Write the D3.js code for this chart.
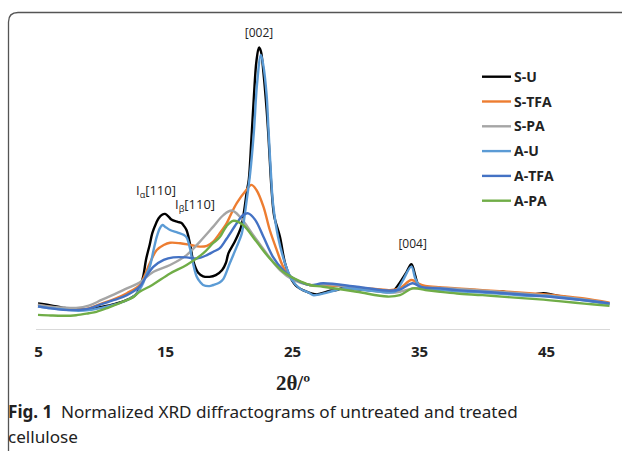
<!DOCTYPE html>
<html>
<head>
<meta charset="utf-8">
<script src="https://d3js.org/d3.v7.min.js"></script>
<style>
  body { margin:0; background:#fff; }
  svg { display:block; }
</style>
</head>
<body>
<svg></svg>
<script>

// series names, in Excel draw order
var seriesNames = ["S-U","S-TFA","S-PA","A-U","A-TFA","A-PA"];
var seriesColors = ["#000000","#ED7D31","#A5A5A5","#5B9BD5","#4472C4","#70AD47"];
var xTicks = [5,15,25,35,45];

// [2theta, normalized intensity]
var sU = [[5,9.1],[6,8.4],[7,7.5],[8,6.9],[9,7.0],[10,7.8],[11,8.8],[12,10.3],[12.7,12.2],[13,14.5],
  [13.3,19],[13.5,24.5],[13.8,30],[14,34],[14.3,37.5],[14.5,39.3],[14.8,40.6],[15,40.8],[15.3,39.8],
  [15.5,38.8],[16,38.0],[16.3,37.6],[16.5,36.5],[16.7,35],[17,29.5],[17.2,24.5],[17.6,20],[18,18.7],
  [18.5,18.5],[19,19.1],[19.5,20.9],[19.8,23.5],[20,26.9],[20.5,31],[21,36.3],[21.2,41],[21.45,49],
  [21.6,53],[21.8,67],[22,82.4],[22.2,95],[22.4,99.8],[22.55,98.5],[22.75,91],[23,78],[23.15,68],
  [23.25,60],[23.4,49],[23.6,40],[24.05,32.7],[24.45,23.4],[24.85,18.5],[25.4,15],[26,13.5],[26.6,12.5],
  [27,12.3],[27.5,12.9],[28,13.6],[28.5,13.8],[29,14.6],[30,14.2],[31,13.8],[32,13.4],[32.7,13.2],
  [33,13.6],[33.5,16.5],[34,20],[34.4,23],[34.7,19],[34.9,16.2],[35.3,14.7],[36,14.6],[37,14.2],
  [38,13.9],[39,13.7],[40,13.4],[41,13.2],[41.5,13.4],[42,12.9],[43,12.6],[44,12.3],[44.8,12.7],
  [45.5,12.2],[46,11.7],[47,11.0],[48,10.4],[49,9.7],[50,9.0]];

var sTFA = [[5,8.5],[6,7.8],[7,7.2],[8,6.8],[9,7.3],[10,9.0],[11,10.6],[12,12.7],[13,15.6],[13.4,19],
  [13.8,23.3],[14.35,28],[14.9,29.8],[15.4,30.6],[16.2,30.4],[17,29.8],[17.75,29.2],[18.3,29.5],
  [18.8,31],[19.3,33.9],[19.85,37.5],[20.1,39.8],[20.65,44.6],[21.4,49.3],[21.8,51.1],[22.2,49.3],
  [22.75,43.4],[23.25,35.1],[23.8,28],[24.3,22.1],[24.85,18.5],[25.6,16.8],[26.4,15.6],[27.5,15.5],
  [29,15.2],[30,14.8],[31,14.4],[32,14.0],[32.7,13.8],[33.5,14.5],[34.4,17.4],[35,16],[35.5,15.3],
  [36.65,14.8],[38,14.4],[40,13.8],[42,13.2],[44.5,12.4],[46,11.8],[48,10.8],[50,9.3]];

var sPA = [[5,8.6],[6,7.9],[7,7.6],[8,7.5],[9,8.3],[10,10.3],[11,12.3],[12,14.4],[13,16.5],[14.1,20.3],
  [15.4,22.7],[16.7,26.2],[17.75,31],[18.8,36.3],[19.6,40.4],[20.25,42],[20.9,39.8],[21.95,33.3],
  [23,26.8],[24.05,20.9],[25.1,17.4],[26.4,15.6],[28,15.8],[30.1,14.4],[32.7,12.9],[33.5,13.2],
  [34.5,14.4],[35.5,14.6],[36.65,14.6],[38,14.2],[40,13.6],[42,13.0],[44.5,12.1],[46,11.5],
  [48,10.5],[50,9.1]];

var aU = [[5,8.0],[6,7.4],[7,6.9],[8,6.5],[9,6.7],[10,7.5],[11,8.6],[12,10.2],[12.7,12.2],[13,14.0],
  [13.3,16.5],[13.5,19],[13.8,22.1],[14.1,28],[14.35,32.7],[14.6,35.8],[14.8,36.9],[15,36.3],
  [15.4,35.1],[16,34.2],[16.5,33.3],[16.7,32.5],[17.0,28],[17.1,25.6],[17.5,18.5],[17.8,16.5],
  [18,15.6],[18.5,15.2],[18.8,15.6],[19.3,16.5],[19.6,17.8],[20.1,23.3],[20.65,29.2],[21.05,33.9],
  [21.2,38],[21.4,44.6],[21.7,55],[22,70],[22.25,87],[22.55,97.2],[22.75,93.3],[23,83],[23.15,70.6],
  [23.4,50.5],[23.5,44.6],[23.9,32.7],[24.45,23.3],[25,17.4],[25.6,14.4],[26.4,12.7],[26.65,12.0],
  [27.2,12.3],[28,13.2],[29,14.4],[30,14.2],[31,13.6],[32,13.2],[32.7,12.9],[33.2,13.5],[33.7,17],
  [34.4,22.1],[34.7,18],[35,15.5],[35.5,14.3],[36.7,13.8],[38,13.4],[40,12.9],[42,12.3],[44,11.7],
  [45,11.8],[46,11.3],[48,10.2],[50,8.8]];

var aTFA = [[5,8.0],[6,7.3],[7,6.8],[8,6.7],[9,7.2],[10,8.8],[11,10.3],[12,12.0],[13,15.0],[13.5,18.5],
  [14.1,22.1],[14.9,24.5],[15.65,25.4],[16.7,25.4],[17.5,25],[18.3,26.2],[18.8,27.4],[19.3,28.6],
  [19.85,32],[20.65,37.5],[21.15,40.4],[21.55,41],[22.1,38.7],[22.75,32.7],[23.5,25.6],[24.3,20.9],
  [25.1,18],[26.4,15.6],[27.45,16.2],[30.1,15],[32.7,13.6],[33.5,14],[34.5,16.2],[35.2,14.8],
  [36.65,14.4],[38,13.8],[40,13.2],[42,12.6],[44.5,11.7],[46,11.1],[48,10.2],[50,9.1]];

var aPA = [[5,5.0],[6,4.8],[7,4.7],[8,4.9],[9,5.6],[9.6,6.1],[10.5,7.5],[11.7,9.7],[12.5,11.3],[13,13.2],
  [14,15.6],[15.4,19.7],[16.7,22.7],[18,26.8],[18.8,30.5],[19.3,32.5],[19.85,36.5],[20.4,38.4],
  [21.15,36.9],[22.2,31],[23.25,25],[24.3,20.3],[25.4,17.4],[26.4,15.6],[27.45,15],[30.1,13.2],
  [32.5,11.5],[33.5,12],[34.5,14.4],[35.5,13.8],[36.65,13.2],[38,12.6],[40,12.0],[42,11.3],
  [44.5,10.5],[46,9.9],[48,9.0],[50,8.2]];

var allSeries = [sU, sTFA, sPA, aU, aTFA, aPA];

drawChart();

function drawChart(){
  var width = 622;
  var height = 451;

  var svg = d3.select("svg")
              .attr("width",width)
              .attr("height",height);

  // figure frame, rounded top-left corner
  svg.append("path")
     .attr("d","M8.5,451 L8.5,22 Q8.5,12.5 18,12.5 L622,12.5")
     .attr("fill","none")
     .attr("stroke","#555")
     .attr("stroke-width",1.3);

  var xScale = d3.scaleLinear()
                 .domain([5,50])
                 .range([38,609.5]);
  var yScale = d3.scaleLinear()
                 .domain([0,100])
                 .range([329,47]);

  var xAxis = d3.axisBottom()
                .scale(xScale)
                .tickValues(xTicks)
                .tickSize(0)
                .tickSizeOuter(0)
                .tickPadding(17)
                .tickFormat(d3.format("d"));
  var gx = svg.append("g")
              .attr("transform","translate(0,329)")
              .call(xAxis);
  gx.select(".domain")
    .attr("stroke","#d9d9d9")
    .attr("stroke-width",1.2)
    .attr("d","M36,0.5H610");
  gx.selectAll("text")
    .attr("font-family","'Open Sans', sans-serif")
    .attr("font-weight","bold")
    .attr("font-size",15)
    .attr("fill","#222");

  svg.append("text")
     .text("2θ/º")
     .attr("x",293)
     .attr("y",390)
     .attr("text-anchor","middle")
     .attr("font-family","'Liberation Serif', serif")
     .attr("font-weight","bold")
     .attr("font-size",21)
     .attr("fill","#222");

  var line = d3.line()
               .x(function(d){ return xScale(d[0]); })
               .y(function(d){ return yScale(d[1]); })
               .curve(d3.curveCatmullRom.alpha(0.5));

  svg.selectAll("path.series")
     .data(allSeries)
     .enter()
     .append("path")
     .attr("class","series")
     .attr("d",line)
     .attr("fill","none")
     .attr("stroke",function(d,i){ return seriesColors[i]; })
     .attr("stroke-width",2.4)
     .attr("stroke-linejoin","round");

  // peak labels
  var lblFont = "'Open Sans', sans-serif";
  svg.append("text")
     .text("[002]")
     .attr("x",xScale(22.4))
     .attr("y",37)
     .attr("text-anchor","middle")
     .attr("font-family",lblFont)
     .attr("font-size",12)
     .attr("fill","#222");
  svg.append("text")
     .text("[004]")
     .attr("x",xScale(34.5))
     .attr("y",248)
     .attr("text-anchor","middle")
     .attr("font-family",lblFont)
     .attr("font-size",12)
     .attr("fill","#222");

  var ia = svg.append("text")
              .attr("x",136)
              .attr("y",195)
              .attr("font-family",lblFont)
              .attr("font-size",13)
              .attr("fill","#222");
  ia.append("tspan").text("I");
  ia.append("tspan").text("α").attr("font-size",9).attr("dy",3);
  ia.append("tspan").text("[110]").attr("dy",-3);

  var ib = svg.append("text")
              .attr("x",175)
              .attr("y",209)
              .attr("font-family",lblFont)
              .attr("font-size",13)
              .attr("fill","#222");
  ib.append("tspan").text("I");
  ib.append("tspan").text("β").attr("font-size",9).attr("dy",3);
  ib.append("tspan").text("[110]").attr("dy",-3);

  // legend
  var legend = svg.selectAll("g.legend")
                  .data(seriesNames)
                  .enter()
                  .append("g")
                  .attr("class","legend")
                  .attr("transform",function(d,i){
                    return "translate(482,"+(76.7+i*24.8)+")";
                  });
  legend.append("line")
        .attr("x1",0)
        .attr("x2",29)
        .attr("stroke",function(d,i){ return seriesColors[i]; })
        .attr("stroke-width",2.4);
  legend.append("text")
        .text(function(d){ return d; })
        .attr("x",32)
        .attr("dy","0.36em")
        .attr("font-family","'Open Sans', sans-serif")
        .attr("font-weight","bold")
        .attr("font-size",14)
        .attr("fill","#222");

  // caption
  var cap = svg.append("text")
               .attr("x",8)
               .attr("y",418)
               .attr("font-family","'Noto Sans', sans-serif")
               .attr("font-size",17)
               .attr("fill","#222");
  cap.append("tspan").text("Fig. 1").attr("font-weight","bold");
  cap.append("tspan").text("\u2002Normalized XRD diffractograms of untreated and treated");
  var w = cap.node().getComputedTextLength();
  var fs = 17*510/w;
  cap.attr("font-size",fs);

  svg.append("text")
     .text("cellulose")
     .attr("x",8)
     .attr("y",443)
     .attr("font-family","'Noto Sans', sans-serif")
     .attr("font-size",fs)
     .attr("fill","#222");
}
</script>
</body>
</html>
